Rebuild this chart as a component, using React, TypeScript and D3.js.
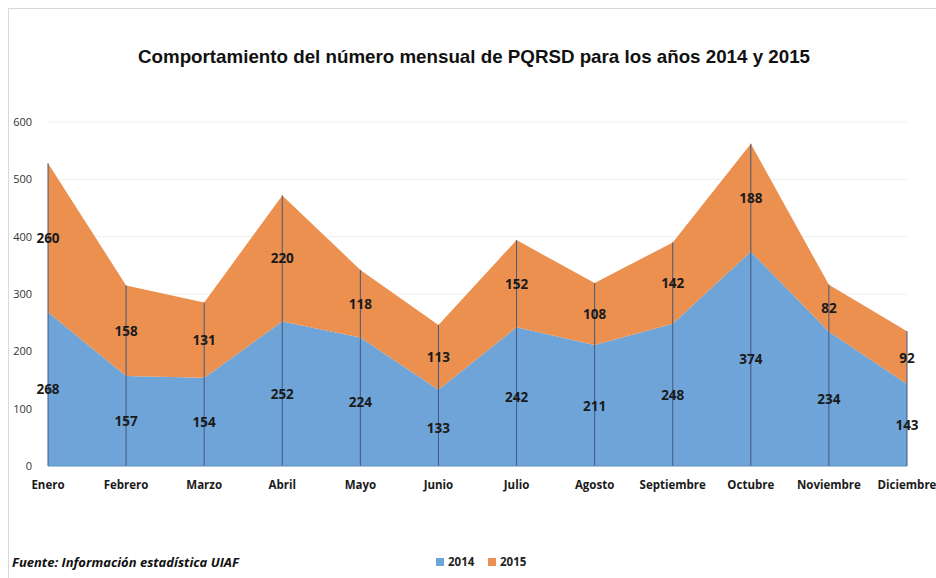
import React, { useEffect, useRef } from "react";
import * as d3 from "d3";

const months = ["Enero", "Febrero", "Marzo", "Abril", "Mayo", "Junio", "Julio", "Agosto", "Septiembre", "Octubre", "Noviembre", "Diciembre"];
const values2014 = [268, 157, 154, 252, 224, 133, 242, 211, 248, 374, 234, 143];
const values2015 = [260, 158, 131, 220, 118, 113, 152, 108, 142, 188, 82, 92];
const yTicks = [0, 100, 200, 300, 400, 500, 600];
const seriesNames = ["2014", "2015"];
const colors = ["#6ea4d8", "#eb904f"];

const App: React.FC = () => {
    const ref = useRef<SVGSVGElement>(null);

    useEffect(() => {
        if (!ref.current) return;
        const svg = d3.select(ref.current);
        svg.selectAll("*").remove();

        const left = 48;
        const right = 907;
        const top = 122;
        const bottom = 466;

        const x = d3.scalePoint<string>().domain(months).range([left, right]);
        const y = d3.scaleLinear().domain([0, 600]).range([bottom, top]);

        // chart border
        svg.append("rect")
            .attr("x", 8.5).attr("y", 8.5)
            .attr("width", 1000).attr("height", 1000)
            .attr("fill", "white")
            .attr("stroke", "#d9d9d9");

        svg.append("text")
            .attr("x", 474).attr("y", 63)
            .attr("text-anchor", "middle")
            .attr("font-family", "'Liberation Sans', Arial, sans-serif")
            .attr("font-weight", "bold")
            .attr("font-size", 18.5)
            .attr("fill", "#111")
            .attr("textLength", 672)
            .attr("lengthAdjust", "spacingAndGlyphs")
            .text("Comportamiento del número mensual de PQRSD para los años 2014 y 2015");

        // gridlines
        svg.append("g")
            .selectAll("line")
            .data(yTicks.slice(1))
            .join("line")
            .attr("x1", left).attr("x2", right)
            .attr("y1", (d) => y(d)).attr("y2", (d) => y(d))
            .attr("stroke", "#eeeeee");

        svg.append("g")
            .selectAll("text")
            .data(yTicks)
            .join("text")
            .attr("x", 32)
            .attr("y", (d) => y(d) + 4)
            .attr("text-anchor", "end")
            .attr("font-family", "'Open Sans', sans-serif")
            .attr("font-size", 11)
            .attr("fill", "#333")
            .text((d) => d);

        const rows = months.map((m, i) => ({ month: m, "2014": values2014[i], "2015": values2015[i] }));
        const stacked = d3.stack<any>().keys(seriesNames)(rows);

        const area = d3.area<any>()
            .x((d) => x(d.data.month) as number)
            .y0((d) => y(d[0]))
            .y1((d) => y(d[1]));

        svg.append("g")
            .selectAll("path")
            .data(stacked)
            .join("path")
            .attr("d", (s) => area(s))
            .attr("fill", (_, i) => colors[i]);

        // drop lines
        svg.append("g")
            .selectAll("line")
            .data(stacked[1])
            .join("line")
            .attr("x1", (d: any) => x(d.data.month) as number)
            .attr("x2", (d: any) => x(d.data.month) as number)
            .attr("y1", (d: any) => y(d[1]))
            .attr("y2", bottom)
            .attr("stroke", "#41597f")
            .attr("stroke-width", 1);

        // baseline
        svg.append("line")
            .attr("x1", left).attr("x2", right)
            .attr("y1", bottom).attr("y2", bottom)
            .attr("stroke", "#5b8fc4");

        // data labels
        stacked.forEach((s) => {
            svg.append("g")
                .selectAll("text")
                .data(s)
                .join("text")
                .attr("x", (d: any) => x(d.data.month) as number)
                .attr("y", (d: any) => y((d[0] + d[1]) / 2) + 5)
                .attr("text-anchor", "middle")
                .attr("font-family", "'Open Sans', sans-serif")
                .attr("font-weight", "bold")
                .attr("font-size", 13.5)
                .attr("fill", "#1a1a1a")
                .text((d: any) => d[1] - d[0]);
        });

        svg.append("g")
            .selectAll("text")
            .data(months)
            .join("text")
            .attr("x", (d) => x(d) as number)
            .attr("y", 489)
            .attr("text-anchor", "middle")
            .attr("font-family", "'Open Sans', sans-serif")
            .attr("font-weight", "bold")
            .attr("font-size", 11.5)
            .attr("fill", "#1a1a1a")
            .text((d) => d);

        svg.append("text")
            .attr("x", 12).attr("y", 567)
            .attr("font-family", "'Open Sans', sans-serif")
            .attr("font-weight", "bold")
            .attr("font-style", "italic")
            .attr("font-size", 13)
            .attr("fill", "#111")
            .text("Fuente: Información estadística UIAF");

        const legend = svg.append("g").attr("transform", "translate(436,556)");
        seriesNames.forEach((name, i) => {
            const g = legend.append("g").attr("transform", `translate(${i * 52},0)`);
            g.append("rect").attr("width", 8).attr("height", 8).attr("y", 2).attr("fill", colors[i]);
            g.append("text")
                .attr("x", 12).attr("y", 10)
                .attr("font-family", "'Open Sans', sans-serif")
                .attr("font-weight", "bold")
                .attr("font-size", 11.5)
                .attr("fill", "#222")
                .text(name);
        });
    }, []);

    return (
        <svg
            ref={ref}
            width={936}
            height={578}
            style={{ position: "absolute", left: 0, top: 0, background: "white" }}
        />
    );
};

export default App;
